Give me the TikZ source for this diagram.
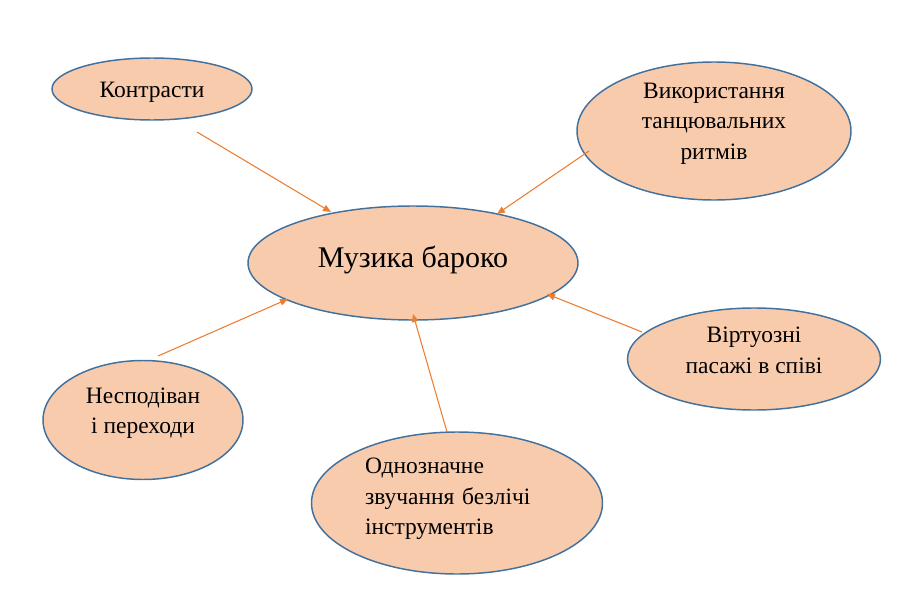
\documentclass[tikz,border=0pt]{standalone}
\usepackage{fontspec}
\setmainfont{Liberation Serif}
\usetikzlibrary{arrows.meta,shapes.geometric,calc}
\definecolor{ellfill}{HTML}{F8CBAD}
\definecolor{elldraw}{HTML}{41719C}
\definecolor{arrcol}{HTML}{ED7D31}
\tikzset{
  ell/.style={ellipse, draw=elldraw, fill=ellfill, line width=1.1pt, inner sep=0pt},
  txt/.style={font=\fontsize{17.6}{22.8}\selectfont, align=center, inner sep=0pt, text=black},
  bigtxt/.style={font=\fontsize{22.5}{27}\selectfont, inner sep=0pt, text=black},
  arr/.style={draw=arrcol, line width=0.8pt, -{Triangle[length=6pt,width=5pt]}}
}
\begin{document}
\begin{tikzpicture}[x=0.75pt,y=-0.75pt]
\useasboundingbox (0,0) rectangle (897,603);
\node[ell, minimum width=150pt, minimum height=46.5pt,
  label={[txt, name=kt, yshift=-2.5pt]center:Контрасти}] (k) at (152,89) {};
\node[ell, minimum width=205.5pt, minimum height=103.5pt,
  label={[txt, name=ut, yshift=5.5pt]center:Використання\\танцювальних\\ритмів}] (u) at (714,131) {};
\node[ell, minimum width=247.5pt, minimum height=85.5pt,
  label={[bigtxt, name=mt, yshift=2.5pt]center:Музика бароко}] (m) at (413,263) {};
\node[ell, minimum width=189.75pt, minimum height=76.5pt,
  label={[txt, name=vt, yshift=6.5pt]center:Віртуозні\\пасажі в співі}] (v) at (754,359) {};
\node[ell, minimum width=150pt, minimum height=89.25pt,
  label={[txt, name=nt, yshift=5pt]center:Несподіван\\і переходи}] (n) at (143,420) {};
\node[ell, minimum width=218.25pt, minimum height=106.5pt,
  label={[txt, align=left, text width=138pt, name=ot, yshift=3pt]center:Однозначне\\звучання безлічі\\інструментів}] (o) at (457,503) {};
\draw[arr] ($(k)+(45,43)$) -- ($(m)+(-82,-51)$);
\draw[arr] ($(u)+(-125,20)$) -- ($(m)+(84,-49)$);
\draw[arr] ($(v)+(-112,-27)$) -- ($(m)+(134,31)$);
\draw[arr] ($(n)+(15,-64)$) -- ($(m)+(-125,36)$);
\draw[arr] ($(o)+(-10,-71)$) -- ($(m)+(0,51)$);
\end{tikzpicture}
\end{document}
